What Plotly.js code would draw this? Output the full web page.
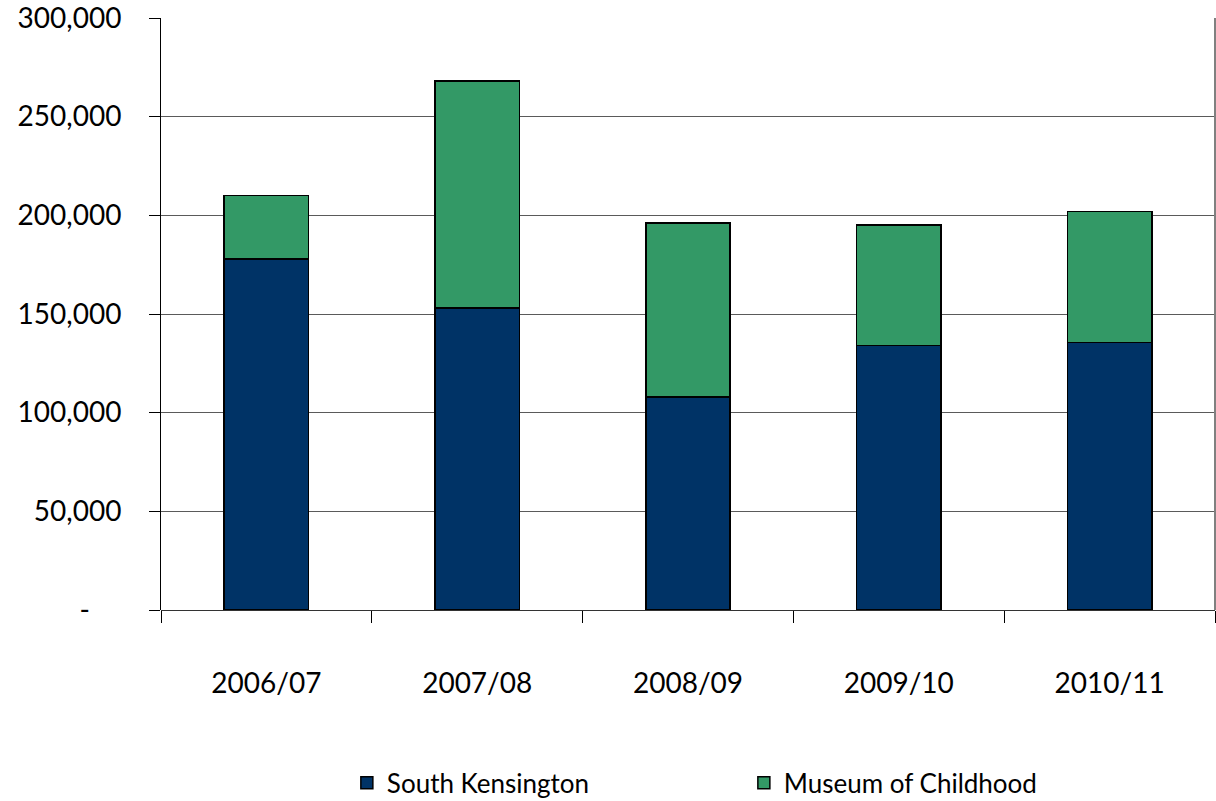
<!DOCTYPE html>
<html>
<head>
<meta charset="utf-8">
<script src="https://cdn.plot.ly/plotly-3.0.1.min.js"></script>
<style>html,body{margin:0;padding:0;background:#fff;}#chart{width:1216px;height:801px;}</style>
</head>
<body>
<div id="chart"></div>
<script>
const categories = ["2006/07", "2007/08", "2008/09", "2009/10", "2010/11"];
const southKensington = [178000, 153000, 108000, 134000, 135500];
const museumOfChildhood = [32000, 115000, 88000, 61000, 66500];
const yTickVals = [0, 50000, 100000, 150000, 200000, 250000, 300000];
const yTickText = ["-\u2002\u2002\u2009", "50,000", "100,000", "150,000", "200,000", "250,000", "300,000"];

const FONT = "Lato, 'Open Sans', sans-serif";

const traces = [
  {
    type: "bar", name: "South Kensington", x: categories, y: southKensington,
    marker: {color: "#003366", line: {color: "#000000", width: 1.5}},
    width: 0.4, hoverinfo: "none"
  },
  {
    type: "bar", name: "Museum of Childhood", x: categories, y: museumOfChildhood,
    marker: {color: "#339966", line: {color: "#000000", width: 1.5}},
    width: 0.4, hoverinfo: "none"
  }
];

const layout = {
  width: 1216, height: 801,
  barmode: "stack",
  paper_bgcolor: "#ffffff", plot_bgcolor: "#ffffff",
  margin: {l: 161, r: 1, t: 18, b: 191, autoexpand: false},
  font: {family: FONT, size: 22, color: "#000000"},
  showlegend: true,
  legend: {
    orientation: "h", x: 0.553, xanchor: "center", y: -0.292, yanchor: "middle",
    font: {family: FONT, size: 26, color: "#000000"},
    entrywidth: 352, traceorder: "normal"
  },
  xaxis: {
    type: "category",
    automargin: false,
    showgrid: false,
    showline: false,
    ticks: "outside", tickson: "boundaries", ticklen: 12, tickcolor: "#000000", tickwidth: 1,
    ticklabelstandoff: 54,
    tickfont: {family: FONT, size: 28, color: "#000000"},
    zeroline: false
  },
  yaxis: {
    range: [0, 300000],
    automargin: false,
    ticklabeloverflow: "allow",
    tickvals: yTickVals, ticktext: yTickText,
    showgrid: true, gridcolor: "#5a5a5a", gridwidth: 1,
    showline: true, linecolor: "#000000", linewidth: 1,
    ticks: "outside", ticklen: 11, tickcolor: "#000000",
    ticklabelstandoff: 22,
    tickfont: {family: FONT, size: 28, color: "#000000"},
    zeroline: true, zerolinecolor: "#333333", zerolinewidth: 1
  },
  shapes: [
    {type: "line", xref: "paper", yref: "paper", x0: 1, x1: 1, y0: 0, y1: 1,
     line: {color: "#808080", width: 2}}
  ]
};

Plotly.newPlot("chart", traces, layout, {displayModeBar: false, staticPlot: true});
</script>
</body>
</html>
